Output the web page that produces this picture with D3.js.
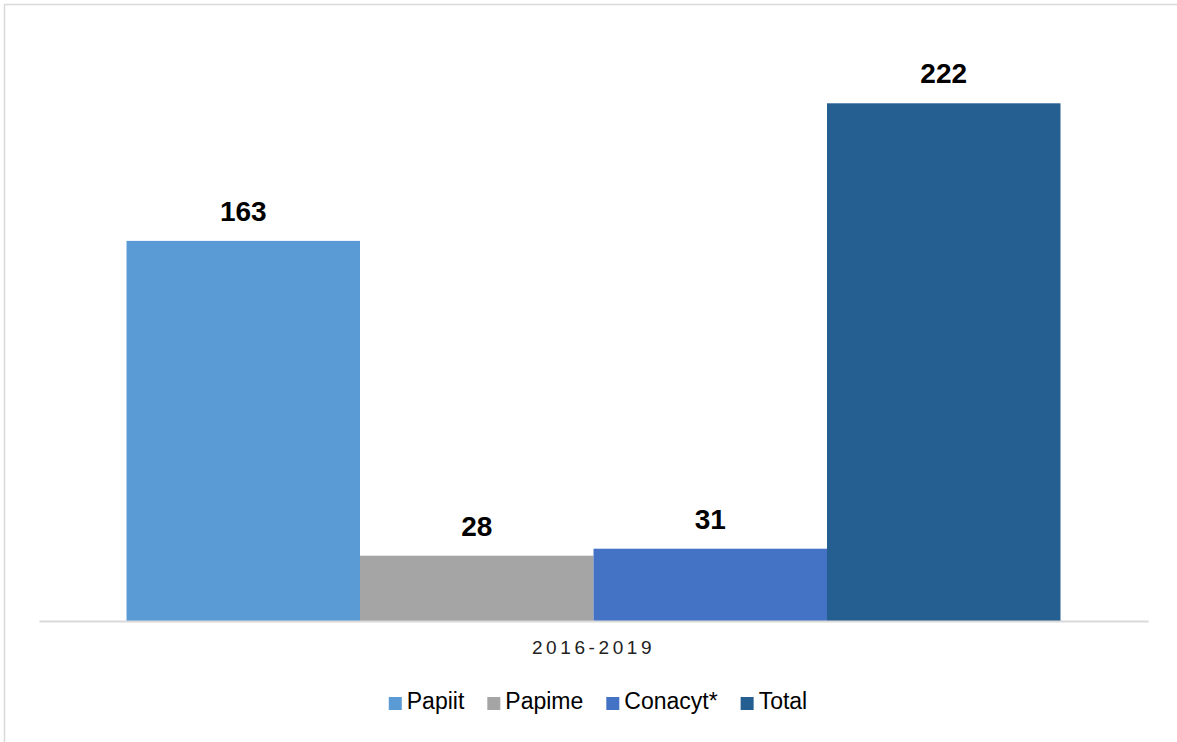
<!DOCTYPE html>
<html>
<head>
<meta charset="utf-8">
<script src="https://cdn.jsdelivr.net/npm/d3@7"></script>
<style>
  body { margin: 0; background: #fff; }
  svg { display: block; font-family: "Liberation Sans", Arial, sans-serif; }
</style>
</head>
<body>
<div id="chart"></div>
<script>
var categories = ["2016-2019"];
var seriesNames = ["Papiit", "Papime", "Conacyt*", "Total"];
var seriesValues = [163, 28, 31, 222];
var seriesColors = ["#5B9BD5", "#A5A5A5", "#4472C4", "#255E91"];

var width = 1177, height = 742;
var margin = { top: 38, bottom: 121, left: 39, right: 29 };

var svg = d3.select("#chart")
  .append("svg")
  .attr("width", width)
  .attr("height", height);

// chart area frame (only top and left edges are visible)
svg.append("rect")
  .attr("x", 4.5).attr("y", 4.5)
  .attr("width", width + 20).attr("height", height + 20)
  .attr("fill", "none")
  .attr("stroke", "#d9d9d9")
  .attr("stroke-width", 1.5);

var x0 = d3.scaleBand()
  .domain(categories)
  .range([margin.left, width - margin.right])
  .paddingOuter(0.0937)
  .paddingInner(0);

var x1 = d3.scaleBand()
  .domain(seriesNames)
  .range([0, x0.bandwidth()])
  .padding(0);

var y = d3.scaleLinear()
  .domain([0, 250])
  .range([height - margin.bottom, margin.top]);

var rows = seriesNames.map(function (name, i) {
  return { name: name, value: seriesValues[i], color: seriesColors[i], cat: categories[0] };
});

var group = svg.append("g")
  .attr("transform", "translate(" + x0(categories[0]) + ",0)");

group.selectAll("rect.bar")
  .data(rows)
  .enter()
  .append("rect")
  .attr("class", "bar")
  .attr("x", function (d) { return x1(d.name); })
  .attr("y", function (d) { return y(d.value); })
  .attr("width", x1.bandwidth())
  .attr("height", function (d) { return y(0) - y(d.value); })
  .attr("fill", function (d) { return d.color; });

group.selectAll("text.label")
  .data(rows)
  .enter()
  .append("text")
  .attr("class", "label")
  .attr("x", function (d) { return x1(d.name) + x1.bandwidth() / 2; })
  .attr("y", function (d) { return y(d.value) - 20; })
  .attr("text-anchor", "middle")
  .attr("font-size", 28)
  .attr("font-weight", "bold")
  .attr("fill", "#000")
  .text(function (d) { return d.value; });

// x axis baseline
var xAxis = svg.append("g")
  .attr("transform", "translate(0," + y(0) + ")")
  .call(d3.axisBottom(x0).tickSize(0).tickPadding(0));
xAxis.select(".domain")
  .attr("stroke", "#d9d9d9")
  .attr("stroke-width", 2);
xAxis.selectAll(".tick text")
  .attr("dy", null)
  .attr("y", 33)
  .attr("font-size", 19)
  .attr("font-family", "Liberation Sans, Arial, sans-serif")
  .attr("letter-spacing", "3.6px")
  .attr("fill", "#222");

// legend
var legend = svg.append("g").attr("class", "legend");
var items = legend.selectAll("g")
  .data(rows)
  .enter()
  .append("g");
items.append("rect")
  .attr("width", 13).attr("height", 13)
  .attr("y", -12)
  .attr("fill", function (d) { return d.color; });
items.append("text")
  .attr("x", 18)
  .attr("font-size", 23)
  .attr("fill", "#000")
  .text(function (d) { return d.name; });

var cursor = 0;
items.each(function () {
  var g = d3.select(this);
  g.attr("transform", "translate(" + cursor + ",0)");
  cursor += 18 + g.select("text").node().getComputedTextLength() + 23;
});
var legendWidth = cursor - 23;
legend.attr("transform", "translate(" + (598 - legendWidth / 2) + ",709)");
</script>
</body>
</html>
